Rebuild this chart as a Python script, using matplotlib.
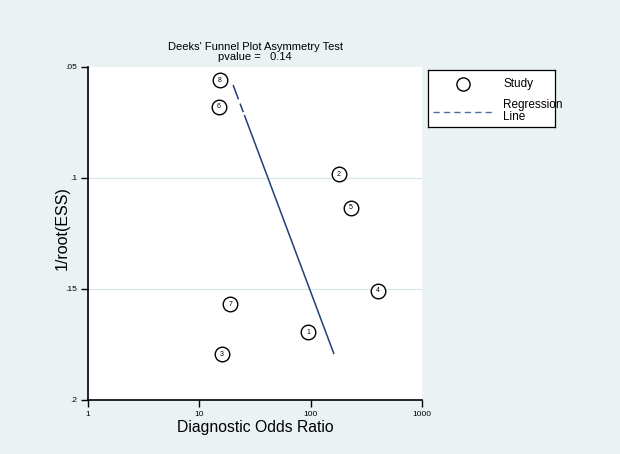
import matplotlib
matplotlib.use("Agg")
import matplotlib.pyplot as plt
import numpy as np

plt.rcParams["font.family"] = ["Liberation Sans", "DejaVu Sans"]

# Data
study_ids = ["1", "2", "3", "4", "5", "6", "7", "8"]
dor = [95, 180, 16, 404, 231, 15, 19, 15.3]
inv_root_ess = [0.1694, 0.0982, 0.1793, 0.1509, 0.1135, 0.068, 0.1568, 0.0559]
reg_x = [20.1, 162]
reg_y = [0.0581, 0.1793]
xticks = [1, 10, 100, 1000]
xtick_labels = ["1", "10", "100", "1000"]
yticks = [0.05, 0.1, 0.15, 0.2]
ytick_labels = [".05", ".1", ".15", ".2"]
title = "Deeks' Funnel Plot Asymmetry Test\npvalue =   0.14"

bg = "#EAF2F3"
grid_c = "#D6E7EA"
line_c = "#1F3F7A"

fig = plt.figure(figsize=(6.2, 4.54), dpi=100, facecolor=bg)
ax = fig.add_axes([88/620, 1-400/454, 334/620, 333/454])
ax.set_facecolor("white")
ax.set_xscale("log")
ax.set_xlim(1, 1000)
ax.set_ylim(0.2, 0.05)
ax.set_xticks(xticks)
ax.set_xticklabels(xtick_labels)
ax.minorticks_off()
ax.set_yticks(yticks)
ax.set_yticklabels(ytick_labels)
ax.tick_params(axis="both", labelsize=6, length=5, width=1, direction="out", pad=3)
for s in ["top", "right"]:
    ax.spines[s].set_visible(False)
for s in ["left", "bottom"]:
    ax.spines[s].set_linewidth(1.2)
for y in [0.1, 0.15]:
    ax.axhline(y, color=grid_c, lw=0.9, zorder=0)

ax.plot(reg_x, reg_y, color=line_c, lw=1.1, ls=(0, (10, 3, 6, 2, 400, 1)), zorder=2)
ax.scatter(dor, inv_root_ess, s=110, facecolors="white", edgecolors="black",
           linewidths=1.0, zorder=3)
for sid, x, y in zip(study_ids, dor, inv_root_ess):
    ax.text(x, y, sid, fontsize=5, ha="center", va="center", zorder=4)

ax.set_xlabel("Diagnostic Odds Ratio", fontsize=11.3)
ax.xaxis.set_label_coords(0.5, -20/333)
ax.set_ylabel("1/root(ESS)", fontsize=11.5)
ax.yaxis.set_label_coords(-18/334, 0.515)
fig.text(255/620, 1-52/454, title, ha="center", va="center", fontsize=8,
         linespacing=0.9)

# Legend
lax = fig.add_axes([428/620, 1-127/454, 127/620, 57/454])
lax.set_xlim(0, 127)
lax.set_ylim(57, 0)
lax.set_xticks([])
lax.set_yticks([])
lax.set_facecolor("white")
for s in lax.spines.values():
    s.set_linewidth(0.9)
    s.set_color("black")
lax.scatter([35], [14], s=90, facecolors="white", edgecolors="black", linewidths=1.0)
lax.text(75, 14, "Study", fontsize=8.5, va="center")
lax.plot([5, 65], [42, 42], color="#4A6FA5", lw=1.0, dashes=(4.5, 3))
lax.text(75, 41, "Regression\nLine", fontsize=8.5, va="center", linespacing=0.9)

fig.savefig("out.png", dpi=100, facecolor=bg)
